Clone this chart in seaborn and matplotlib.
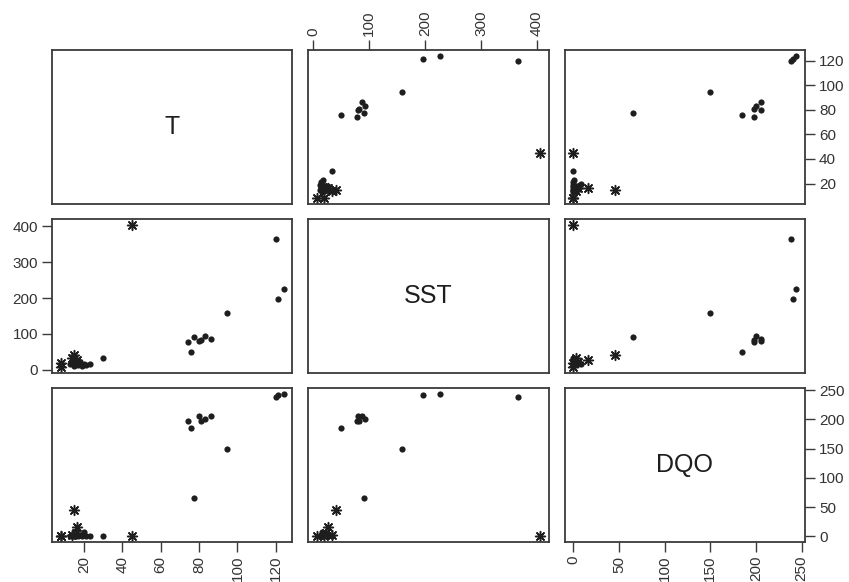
import matplotlib
matplotlib.use("Agg")
import matplotlib.pyplot as plt
import seaborn as sns
import pandas as pd
import numpy as np

# ---- data ----
T = [74, 76, 77.5, 80, 81, 83, 86,
     94.5, 120, 121, 124,
     30, 13, 14, 15, 16, 17, 18, 19, 20, 21, 23, 15,
     45, 8, 8, 15, 16.5, 14, 16]
SST = [78, 49, 91, 80, 82, 93, 87,
       159, 366, 197, 226,
       34, 16, 20, 12, 18, 14, 22, 12, 16, 14, 17, 25,
       405, 7, 20, 41, 27, 33, 22]
DQO = [198, 185, 65, 206, 198, 200, 205,
       150, 238, 241, 244,
       0, 0, 2, 0, 6, 0, 3, 0, 8, 0, 1, 0,
       0, 0, 0, 45, 16, 3, 5]
kind = ["dot"] * 23 + ["ast"] * 7

var_names = ["T", "SST", "DQO"]
tick_T = [20, 40, 60, 80, 100, 120]
tick_SST = [0, 100, 200, 300, 400]
tick_DQO = [0, 50, 100, 150, 200, 250]

df = pd.DataFrame({"T": T, "SST": SST, "DQO": DQO, "kind": kind})
ticks = {"T": tick_T, "SST": tick_SST, "DQO": tick_DQO}

sns.set_style("white")
plt.rcParams["font.family"] = ["Liberation Sans", "DejaVu Sans"]

INK = "#1e1e1e"
FRAME = "#3a3a3a"

g = sns.PairGrid(df, vars=var_names, despine=False, height=2, aspect=1.5)
fig = g.figure
fig.set_size_inches(8.49, 5.82)
fig.subplots_adjust(left=52 / 849, right=805 / 849, top=1 - 50 / 582,
                    bottom=1 - 542 / 582, wspace=0.066, hspace=0.097)

dots = df[df["kind"] == "dot"]
asts = df[df["kind"] == "ast"]

for i, yv in enumerate(var_names):
    for j, xv in enumerate(var_names):
        ax = g.axes[i, j]
        if i != j:
            sns.scatterplot(data=dots, x=xv, y=yv, ax=ax, marker="o", s=20,
                            color=INK, linewidth=0, legend=False)
            sns.scatterplot(data=asts, x=xv, y=yv, ax=ax, marker=(8, 2, 0),
                            s=50, color=INK, linewidth=1.1, legend=False)
        else:
            ax.text(0.5, 0.5, xv, transform=ax.transAxes, ha="center",
                    va="center", fontsize=18, color=INK)
        ax.set_xlabel("")
        ax.set_ylabel("")
        for sp in ax.spines.values():
            sp.set_visible(True)
            sp.set_linewidth(1.3)
            sp.set_color(FRAME)

# limits with R-style 4% padding
for k, v in enumerate(var_names):
    lo, hi = min(df[v]), max(df[v])
    pad = 0.04 * (hi - lo)
    g.axes[0, k].set_xlim(lo - pad, hi + pad)
    g.axes[k, 0].set_ylim(lo - pad, hi + pad)

for i, yv in enumerate(var_names):
    for j, xv in enumerate(var_names):
        ax = g.axes[i, j]
        ax.set_xticks(ticks[xv])
        ax.set_yticks(ticks[yv])
        ax.tick_params(axis="both", which="both", bottom=False, top=False,
                       left=False, right=False, labelbottom=False,
                       labeltop=False, labelleft=False, labelright=False,
                       length=7, width=1, color=FRAME, labelcolor="#333333",
                       labelsize=11, pad=3)

g.axes[2, 0].tick_params(axis="x", bottom=True, labelbottom=True, labelrotation=90)
g.axes[0, 1].tick_params(axis="x", top=True, labeltop=True, labelrotation=90)
g.axes[2, 2].tick_params(axis="x", bottom=True, labelbottom=True, labelrotation=90)
g.axes[0, 2].tick_params(axis="y", right=True, labelright=True)
g.axes[1, 0].tick_params(axis="y", left=True, labelleft=True)
g.axes[2, 2].tick_params(axis="y", right=True, labelright=True)

fig.savefig("out.png", dpi=100)
